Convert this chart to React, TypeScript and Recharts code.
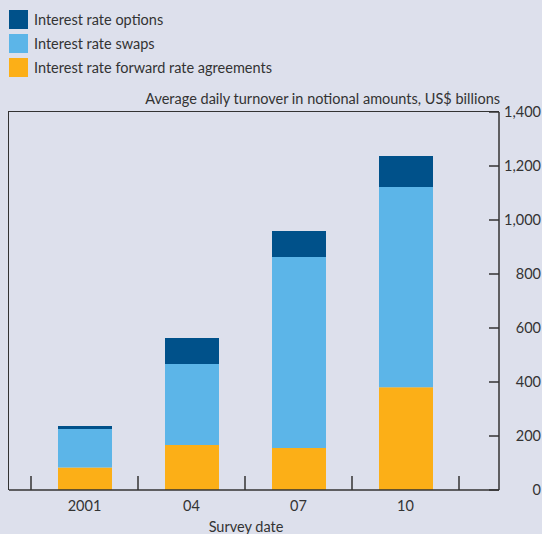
import { BarChart, Bar, XAxis, YAxis, ReferenceLine } from "recharts";

const years = ["2001", "04", "07", "10"];
const fraValues = [83, 167, 156, 381];
const swapValues = [143, 300, 707, 741];
const optionValues = [11, 96, 96, 115];
const yTicks = [0, 200, 400, 600, 800, 1000, 1200, 1400];

const FONT = "Lato, sans-serif";
const INK = "#333";
const BG = "#dde0ec";

const seriesInfo = [
  { key: "options", name: "Interest rate options", color: "#00518a" },
  { key: "swaps", name: "Interest rate swaps", color: "#5cb5e8" },
  { key: "fra", name: "Interest rate forward rate agreements", color: "#fcaf17" },
];

const data = years.map((year, i) => ({ year, fra: fraValues[i], swaps: swapValues[i], options: optionValues[i] }));

// separators sit on the band edges: start of each category, plus the end of the last one
const separators = [
  ...years.map((y) => ({ x: y, position: "start" as const })),
  { x: years[years.length - 1], position: "end" as const },
];

function RightTick({ y, payload }: any) {
  return (
    <g>
      <line x1={489} x2={499} y1={y} y2={y} stroke={INK} strokeWidth={1.5} />
      <text x={541} y={y} dy={5} textAnchor="end" fill={INK} fontSize={14.5} fontFamily={FONT}>
        {payload.value.toLocaleString("en-US")}
      </text>
    </g>
  );
}

export default function App() {
  return (
    <div style={{ position: "absolute", left: 0, top: 0, width: 542, height: 534, background: BG, overflow: "hidden" }}>
      <div style={{ position: "absolute", left: 9, top: 7, fontFamily: FONT, fontSize: 14.5, color: INK }}>
        {seriesInfo.map((s) => (
          <div key={s.key} style={{ display: "flex", alignItems: "center", height: 24 }}>
            <span style={{ width: 19, height: 19, background: s.color, marginRight: 6 }} />
            <span>{s.name}</span>
          </div>
        ))}
      </div>
      <div style={{ position: "absolute", right: 42, top: 90, fontFamily: FONT, fontSize: 14.5, color: INK }}>
        Average daily turnover in notional amounts, US$ billions
      </div>
      <div style={{ position: "absolute", left: 0, width: 492, top: 518, textAlign: "center", fontFamily: FONT, fontSize: 14.5, color: INK }}>
        Survey date
      </div>
      <div style={{ position: "absolute", left: 8, top: 111, width: 491, height: 379, borderLeft: `1.5px solid ${INK}`, borderTop: `1.5px solid ${INK}`, boxSizing: "border-box" }} />
      <BarChart width={542} height={534} data={data} margin={{ top: 112, right: 0, left: 9, bottom: 14 }} barSize={54} style={{ position: "absolute", left: 0, top: 0 }}>
        <XAxis dataKey="year" xAxisId="cat" padding={{ left: 22, right: 40 }} tickLine={false} axisLine={{ stroke: INK, strokeWidth: 1.5 }} height={30} tick={{ fill: INK, fontSize: 14.5, fontFamily: FONT }} tickMargin={5} interval={0} />
        <YAxis yAxisId="r" orientation="right" width={43} domain={[0, 1400]} ticks={yTicks} interval={0} tickLine={false} axisLine={{ stroke: INK, strokeWidth: 1.5 }} tick={<RightTick />} />
        {separators.map((s, i) => (
          <ReferenceLine key={i} xAxisId="cat" yAxisId="r" position={s.position} segment={[{ x: s.x, y: 0 }, { x: s.x, y: 52 }]} stroke={INK} strokeWidth={1.5} />
        ))}
        <Bar xAxisId="cat" yAxisId="r" dataKey="fra" stackId="a" fill="#fcaf17" isAnimationActive={false} />
        <Bar xAxisId="cat" yAxisId="r" dataKey="swaps" stackId="a" fill="#5cb5e8" isAnimationActive={false} />
        <Bar xAxisId="cat" yAxisId="r" dataKey="options" stackId="a" fill="#00518a" isAnimationActive={false} />
      </BarChart>
    </div>
  );
}
